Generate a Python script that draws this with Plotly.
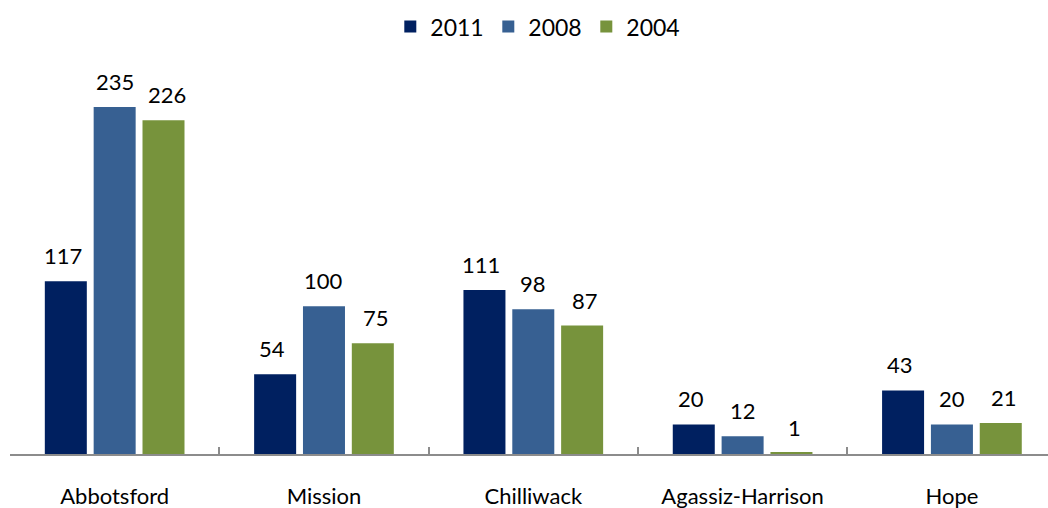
import plotly.graph_objects as go

# Category labels and the three survey years
regions = ["Abbotsford", "Mission", "Chilliwack", "Agassiz-Harrison", "Hope"]
years = ["2011", "2008", "2004"]
counts_2011 = [117, 54, 111, 20, 43]
counts_2008 = [235, 100, 98, 12, 20]
counts_2004 = [226, 75, 87, 1, 21]

series = [counts_2011, counts_2008, counts_2004]
colors = ["#002060", "#376092", "#77933C"]
label_offsets = [-52, 0, 52]  # pixel offset of each bar within its group

FONT = "Lato, Calibri, Carlito, sans-serif"

fig = go.Figure()
for name, vals, col in zip(years, series, colors):
    fig.add_trace(go.Bar(
        x=regions, y=vals, name=name,
        marker=dict(color=col, line=dict(width=0)),
        hoverinfo="x+y+name",
    ))

# Value labels above each bar
for vals, dx in zip(series, label_offsets):
    for reg, v in zip(regions, vals):
        fig.add_annotation(
            x=reg, y=v, text=str(v), showarrow=False,
            xshift=dx, yshift=10, yanchor="bottom",
            font=dict(family=FONT, size=22, color="#000000"),
        )

fig.update_layout(
    width=1048, height=508,
    margin=dict(l=10, r=0, t=70, b=54),
    paper_bgcolor="white", plot_bgcolor="white",
    barmode="group", bargap=0.30, bargroupgap=0.14,
    font=dict(family=FONT, size=22, color="#000000"),
    legend=dict(
        orientation="h", x=0.508, xanchor="center", y=0.99, yref="container",
        yanchor="top", font=dict(family=FONT, size=23), traceorder="normal",
        entrywidth=53, entrywidthmode="pixels",
    ),
    showlegend=True,
)
fig.update_xaxes(
    type="category", range=[-0.5, 4.459],
    showline=True, linecolor="#8C8C8C", linewidth=2,
    ticks="inside", ticklen=7, tickcolor="#8C8C8C", tickwidth=2,
    tickson="boundaries", showgrid=False, zeroline=False,
    tickfont=dict(family=FONT, size=22, color="#000000"),
    ticklabelstandoff=22,
)
fig.update_yaxes(
    range=[0, 260], visible=False, showgrid=False, zeroline=False,
)

fig.write_html("out.html")
